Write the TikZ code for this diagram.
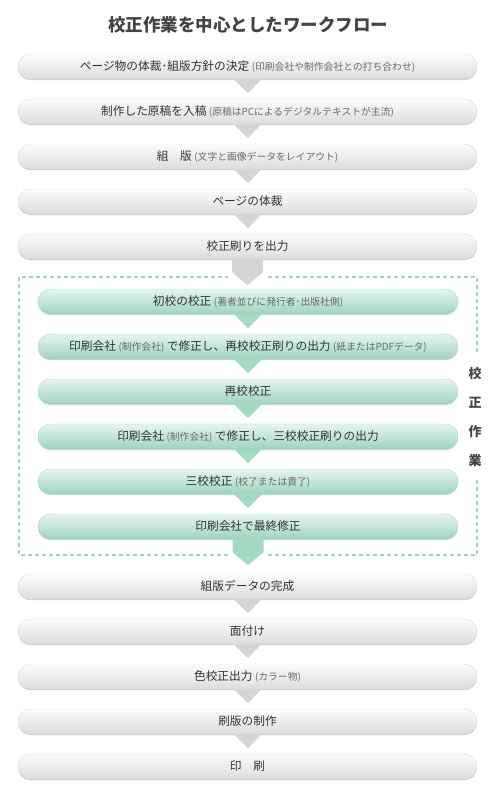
\documentclass[tikz,border=0pt]{standalone}
\usepackage{fontspec}
\newfontfamily\jp{Noto Sans CJK JP}
\usetikzlibrary{calc,shadows}
\definecolor{maintc}{HTML}{333333}
\definecolor{parc}{HTML}{6A6A6A}
\definecolor{titlec}{HTML}{444444}
\definecolor{gtop}{HTML}{FCFCFC}
\definecolor{gbot}{HTML}{DCDCDC}
\definecolor{gedge}{HTML}{D8D8D8}
\definecolor{ntop}{HTML}{E6F5EF}
\definecolor{nbot}{HTML}{9DD4BE}
\definecolor{nedge}{HTML}{A8D9C6}
\definecolor{garrow}{HTML}{D5D5D5}
\definecolor{narrow}{HTML}{A4D9C4}
\definecolor{dashc}{HTML}{9ED6C0}
\newcommand\ptxt[1]{\hspace{2.5pt}{\fontsize{9.8}{11}\selectfont\color{parc}#1}\hspace{2.5pt}}
\tikzset{
  barbase/.style={minimum height=25pt, inner sep=0pt, rounded corners=12.5pt,
    font=\jp\fontsize{11.7}{13}\selectfont, text=maintc,
    drop shadow={shadow xshift=0pt, shadow yshift=-1.2pt, opacity=0.18, fill=black}},
  graybar/.style={barbase, minimum width=459pt, top color=gtop, bottom color=gbot, draw=gedge, line width=0.4pt},
  greenbar/.style={barbase, minimum width=420pt, top color=ntop, bottom color=nbot, draw=nedge, line width=0.4pt},
  grayarrow/.style={fill=garrow},
  greenarrow/.style={fill=narrow},
  dashbox/.style={draw=dashc, line width=1.3pt, dash pattern=on 4pt off 3pt},
}
\begin{document}
\begin{tikzpicture}[x=1pt,y=-1pt]
\useasboundingbox[fill=white] (0,0) rectangle (500,800);
\node[font=\jp\bfseries\fontsize{17.5}{20}\selectfont, text=titlec] (title) at (248,25) {校正作業を中心としたワークフロー};

% dashed frame
\draw[dashbox] (268,277) -- (477,277) -- (477,353);
\draw[dashbox] (477,480) -- (477,555) -- (268,555);
\draw[dashbox] (228,555) -- (19,555) -- (19,277) -- (228,277);

% gray bars (top)
\node[graybar] (b1) at (247.5,66.5) {ページ物の体裁･組版方針の決定\ptxt{(印刷会社や制作会社との打ち合わせ)}};
\node[graybar] (b2) at (247.5,111.5) {制作した原稿を入稿\ptxt{(原稿はPCによるデジタルテキストが主流)}};
\node[graybar] (b3) at (247.5,156.5) {組　版\ptxt{(文字と画像データをレイアウト)}};
\node[graybar] (b4) at (247.5,201.5) {ページの体裁};
\node[graybar] (b5) at (247.5,246.5) {校正刷りを出力};

% green bars
\node[greenbar] (g1) at (248,301.5) {初校の校正\ptxt{(著者並びに発行者･出版社側)}};
\node[greenbar] (g2) at (248,346.5) {印刷会社\ptxt{(制作会社)}で修正し、再校校正刷りの出力\ptxt{(紙またはPDFデータ)}};
\node[greenbar] (g3) at (248,391.5) {再校校正};
\node[greenbar] (g4) at (248,436.5) {印刷会社\ptxt{(制作会社)}で修正し、三校校正刷りの出力};
\node[greenbar] (g5) at (248,481.5) {三校校正\ptxt{(校了または責了)}};
\node[greenbar] (g6) at (248,526.5) {印刷会社で最終修正};

% gray bars (bottom)
\node[graybar] (c1) at (247.5,586.5) {組版データの完成};
\node[graybar] (c2) at (247.5,631.5) {面付け};
\node[graybar] (c3) at (247.5,676.5) {色校正出力\ptxt{(カラー物)}};
\node[graybar] (c4) at (247.5,721.5) {刷版の制作};
\node[graybar] (c5) at (247.5,766.5) {印　刷};

% side label
\node[font=\jp\bfseries\fontsize{13}{29}\selectfont, text=titlec, align=center] (lab) at (475,417.5) {校\\正\\作\\業};

% small arrows
\foreach \a in {b1,b2,b3,b4,c1,c2,c3,c4}{
  \fill[grayarrow] ($(\a.south)+(-14,0)$) -- ($(\a.south)+(14,0)$) -- ($(\a.south)+(0.5,14)$) -- cycle;
}
\foreach \a in {g1,g2,g3,g4,g5}{
  \fill[greenarrow] ($(\a.south)+(-14,0)$) -- ($(\a.south)+(14,0)$) -- ($(\a.south)+(0,14)$) -- cycle;
}
% block arrows
\fill[grayarrow] ($(b5.south)+(-15.5,0)$) -- ($(b5.south)+(15.5,0)$) -- ($(b5.south)+(15.5,13)$) -- ($(b5.south)+(0,26)$) -- ($(b5.south)+(-15.5,13)$) -- cycle;
\fill[greenarrow] ($(g6.south)+(-15.5,0)$) -- ($(g6.south)+(15.5,0)$) -- ($(g6.south)+(15.5,13)$) -- ($(g6.south)+(0,26)$) -- ($(g6.south)+(-15.5,13)$) -- cycle;
\end{tikzpicture}
\end{document}
